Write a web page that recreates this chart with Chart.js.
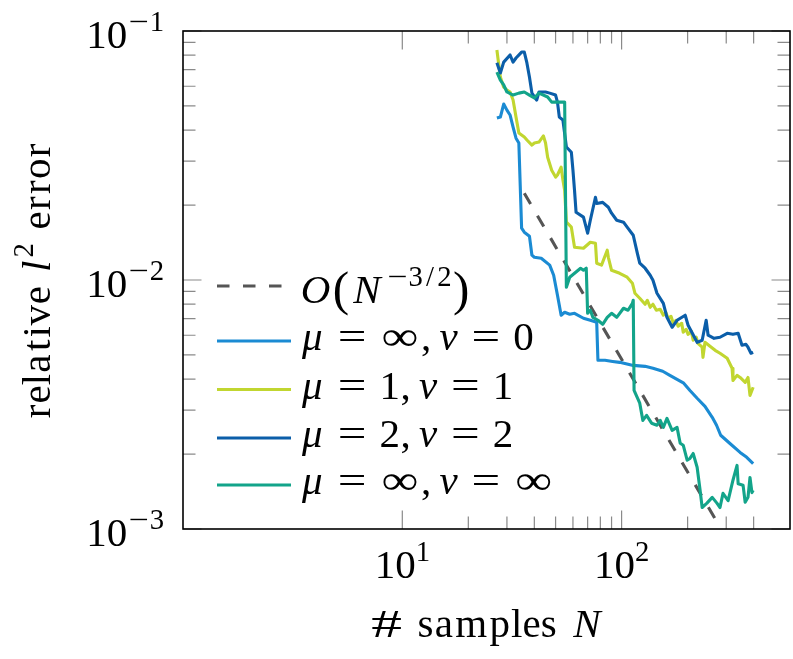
<!DOCTYPE html>
<html><head><meta charset="utf-8">
<script src="https://cdn.jsdelivr.net/npm/chart.js@4.4.0/dist/chart.umd.min.js"></script>
<style>html,body{margin:0;padding:0;background:#fff;}canvas{display:block;}</style>
</head><body>
<canvas id="c" width="793" height="659"></canvas>
<script>
// ---------- data ----------
const refN   = [36, 270];
const refErr = [0.0223, 0.00108];

const nInf0   = [27,28,29,30,31,32,33,34,35,36,38,39,40,43,47,49,51,53,55,58,61,67,72,77,78,84,91,98,113,128,139,154,166,192,205,221,240,259,271,283,311,347,372,398];
const errInf0 = [0.0447,0.0451,0.0509,0.0481,0.0460,0.0411,0.0371,0.0355,0.01614,0.01556,0.0150,0.01258,0.01234,0.01223,0.01147,0.01045,0.00868,0.00722,0.00742,0.00729,0.00735,0.00702,0.00689,0.00676,0.00476,0.00476,0.00471,0.00467,0.00454,0.00450,0.00442,0.00430,0.00414,0.00385,0.00360,0.00335,0.00311,0.00281,0.00261,0.00238,0.00221,0.00203,0.00194,0.00183];

const n11   = [27,28,29,30,31,32,33,34,36,37,39,40,42,44,45,46,48,50,51,53,54,55,56,59,61,67,72,76,77,81,86,87,90,98,106,112,115,121,128,131,135,139,144,150,155,159,163,168,172,177,181,188,191,197,201,208,212,219,223,233,235,240,253,267,281,303,319,322,336,347,366,377,385,398];
const err11 = [0.0839,0.0653,0.0595,0.0579,0.0569,0.0528,0.0451,0.0389,0.0375,0.0365,0.0348,0.0355,0.0358,0.0379,0.0355,0.0311,0.0276,0.0259,0.0264,0.0284,0.0252,0.0229,0.0171,0.0163,0.01354,0.01341,0.01418,0.01405,0.01168,0.01147,0.01317,0.01234,0.01094,0.01064,0.01026,0.00971,0.00885,0.00845,0.00799,0.00829,0.00777,0.00799,0.00756,0.00763,0.00722,0.00742,0.00702,0.00715,0.00670,0.00689,0.00652,0.00670,0.00617,0.00634,0.00605,0.00622,0.00573,0.00589,0.00557,0.00537,0.00489,0.00562,0.00542,0.00522,0.00508,0.00485,0.00442,0.00395,0.00414,0.00406,0.00388,0.00406,0.00344,0.00371];

const n22   = [27,28,29,31,32,33,35,36,37,38,39,41,42,45,47,50,51,52,54,56,59,60,61,62,67,70,72,76,77,82,87,90,95,102,106,113,118,121,128,135,139,145,155,161,170,179,195,201,221,233,243,248,264,281,303,322,340,354,369,377,389,398];
const err22 = [0.0745,0.0678,0.0750,0.0801,0.0750,0.0779,0.0823,0.0823,0.0744,0.0653,0.0563,0.0528,0.0569,0.0569,0.0563,0.0553,0.0518,0.0451,0.0439,0.0342,0.0326,0.0276,0.0229,0.0187,0.01788,0.01542,0.01738,0.0215,0.0203,0.0205,0.0196,0.01855,0.01738,0.01707,0.0163,0.01513,0.0128,0.01168,0.01115,0.01045,0.00998,0.00885,0.00806,0.00708,0.00646,0.00689,0.00722,0.00658,0.00562,0.00573,0.00689,0.00600,0.00583,0.00589,0.00611,0.00605,0.00611,0.00547,0.00552,0.00537,0.00508,0.00512];

const nInfInf   = [27,28,29,30,32,34,36,38,40,42,46,48,51,55,56,58,61,65,67,69,70,72,74,78,82,86,90,95,102,107,112,113,114,121,125,130,137,145,150,155,161,170,179,185,191,199,205,212,221,228,233,245,259,272,281,290,306,322,336,340,358,366,377,385,393,398];
const errInfInf = [0.0684,0.0635,0.0607,0.0569,0.0553,0.0563,0.0569,0.0553,0.0538,0.0563,0.0543,0.0518,0.0518,0.0518,0.00935,0.01026,0.01064,0.01115,0.01094,0.01115,0.00735,0.00756,0.00708,0.00689,0.00664,0.00708,0.00735,0.00708,0.00770,0.00756,0.00806,0.00829,0.00360,0.00320,0.00273,0.00286,0.00266,0.00261,0.00273,0.00256,0.00278,0.00249,0.00256,0.00221,0.00217,0.00189,0.00192,0.00201,0.00177,0.00143,0.00122,0.00127,0.00134,0.00127,0.00122,0.00139,0.00130,0.00157,0.00180,0.00152,0.00150,0.00128,0.00134,0.00161,0.00140,0.00143];

const seriesLabels = ['$O(N^{−3/2})$', '$μ = ∞, ν = 0$', '$μ = 1, ν = 1$', '$μ = 2, ν = 2$', '$μ = ∞, ν = ∞$'];
const seriesColors = ['#555555', '#1b8bd3', '#c1d630', '#0b5ea9', '#13a48a'];

const xTickValues = [10, 100];
const xTickLabels = ['$10^{1}$', '$10^{2}$'];
const xMinorTicks = [20,30,40,50,60,70,80,90,200,300,400];
const yTickValues = [0.001, 0.01, 0.1];
const yTickLabels = ['$10^{−3}$', '$10^{−2}$', '$10^{−1}$'];
const yMinorTicks = [0.002,0.003,0.004,0.005,0.006,0.007,0.008,0.009,0.02,0.03,0.04,0.05,0.06,0.07,0.08,0.09];
const xTitle = '# samples $N$';
const yTitle = 'relative $l^{2}$ error';

// ---------- rich text (TeX-like) ----------
const FONT = '"Liberation Serif","Times New Roman",serif';
const FS = 41;
const CMW = {'a':.5,'c':.444,'e':.444,'i':.278,'l':.278,'m':.833,'o':.5,'p':.556,'r':.392,'s':.394,'t':.389,'v':.528,
  '0':.5,'1':.5,'2':.5,'3':.5,'(':.389,')':.389,',':.278,'/':.5,'#':.833,'=':.778,'∞':1.0,'−':.778,' ':.333,
  'iμ':.603,'iν':.485,'iN':.803,'iO':.763,'il':.298};
const STRETCH = '=∞−#';
function mkRun(c, math, sz, dy, sup){
  const italic = math && /[A-Za-z\u0370-\u03ff]/.test(c);
  let s = sz, d = dy;
  if (math && !sup && (c==='(' || c===')')) { s = sz*1.2; d = dy + sz*0.05; }
  const key = italic ? 'i'+c : c;
  const adv = CMW[key] !== undefined ? CMW[key]*s : null;
  let padL = 0, padR = 0;
  if (math && !sup && c==='=') { padL = padR = 0.278*sz; }
  if (math && !sup && c===',') { padR = 0.167*sz; }
  return {c, italic, s, dy:d, adv, padL, padR, sup};
}
function layout(ctx, str, size){
  const runs = []; let math = false;
  for (let i=0;i<str.length;i++){
    const ch = str[i];
    if (ch==='$'){ math=!math; continue; }
    if (math && ch===' ') continue;
    if (math && ch==='^' && str[i+1]==='{'){
      const j = str.indexOf('}', i);
      for (const c of str.slice(i+2, j)) runs.push(mkRun(c, true, size*0.7, -size*0.413, true));
      i = j; continue;
    }
    runs.push(mkRun(ch, math, size, 0, false));
  }
  let total = 0;
  runs.forEach((r, k) => {
    ctx.font = (r.italic?'italic ':'') + r.s.toFixed(2) + 'px ' + FONT;
    r.w = ctx.measureText(r.c).width;
    if (r.adv === null) r.adv = r.w;
    if (r.italic && runs[k+1] && runs[k+1].sup) r.padR += 0.07*r.s;
    total += r.padL + r.adv + r.padR;
  });
  return {runs, total};
}
function drawRich(ctx, str, x, y, size, align){
  const L = layout(ctx, str, size);
  let cx = align==='center' ? x - L.total/2 : align==='right' ? x - L.total : x;
  ctx.textAlign = 'left'; ctx.textBaseline = 'alphabetic'; ctx.fillStyle = '#000';
  for (const r of L.runs){
    cx += r.padL;
    ctx.font = (r.italic?'italic ':'') + r.s.toFixed(2) + 'px ' + FONT;
    if (STRETCH.includes(r.c) && r.w < r.adv*0.85){
      const sx = r.adv*0.9 / r.w;
      ctx.save(); ctx.translate(cx + r.adv*0.05, y + r.dy); ctx.scale(sx, 1);
      ctx.fillText(r.c, 0, 0); ctx.restore();
    } else {
      ctx.fillText(r.c, cx + (r.adv - r.w)/2, y + r.dy);
    }
    cx += r.adv + r.padR;
  }
}

// ---------- decorations plugin ----------
const decor = {
  id: 'decor',
  beforeDatasetsDraw(chart){
    const ctx = chart.ctx, a = chart.chartArea, xs = chart.scales.x, ys = chart.scales.y;
    ctx.save();
    ctx.strokeStyle = '#8a8a8a'; ctx.lineWidth = 1.2;
    const MAJ = 18.5, MIN = 12.5;
    const vt = (v, len) => { const px = xs.getPixelForValue(v);
      ctx.beginPath(); ctx.moveTo(px, a.bottom); ctx.lineTo(px, a.bottom-len);
      ctx.moveTo(px, a.top); ctx.lineTo(px, a.top+len); ctx.stroke(); };
    const ht = (v, len) => { const py = ys.getPixelForValue(v);
      ctx.beginPath(); ctx.moveTo(a.left, py); ctx.lineTo(a.left+len, py);
      ctx.moveTo(a.right, py); ctx.lineTo(a.right-len, py); ctx.stroke(); };
    xMinorTicks.forEach(v => vt(v, MIN));
    xTickValues.forEach(v => vt(v, MAJ));
    yMinorTicks.forEach(v => ht(v, MIN));
    yTickValues.forEach(v => ht(v, MAJ));
    ctx.restore();
  },
  afterDatasetsDraw(chart){
    const ctx = chart.ctx, a = chart.chartArea, xs = chart.scales.x, ys = chart.scales.y;
    ctx.save();
    ctx.strokeStyle = '#000'; ctx.lineWidth = 1.6;
    ctx.strokeRect(a.left, a.top, a.right-a.left, a.bottom-a.top);
    xTickValues.forEach((v,i) => drawRich(ctx, xTickLabels[i], xs.getPixelForValue(v), a.bottom+49, FS, 'center'));
    yTickValues.forEach((v,i) => drawRich(ctx, yTickLabels[i], a.left-19, ys.getPixelForValue(v)+17, FS, 'right'));
    drawRich(ctx, xTitle, (a.left+a.right)/2, a.bottom+108, FS, 'center');
    ctx.save(); ctx.translate(50, (a.top+a.bottom)/2+1); ctx.rotate(-Math.PI/2);
    drawRich(ctx, yTitle, 0, 0, FS, 'center'); ctx.restore();
    const rowLine = [286, 341, 389.5, 438, 485];
    const rowBase = [303, 350, 398.5, 447, 494];
    chart.data.datasets.forEach((ds, i) => {
      ctx.save();
      ctx.strokeStyle = ds.borderColor; ctx.lineWidth = ds.borderWidth;
      ctx.setLineDash(ds.borderDash || []);
      ctx.beginPath(); ctx.moveTo(217, rowLine[i]); ctx.lineTo(291, rowLine[i]); ctx.stroke();
      ctx.restore();
      drawRich(ctx, ds.label, 300, rowBase[i], FS, 'left');
    });
    ctx.restore();
  }
};

const series = [[refN, refErr], [nInf0, errInf0], [n11, err11], [n22, err22], [nInfInf, errInfInf]];
const datasets = series.map((s, i) => ({
  label: seriesLabels[i],
  data: s[0].map((n, k) => ({x: n, y: s[1][k]})),
  borderColor: seriesColors[i],
  borderWidth: 3.1,
  borderDash: i === 0 ? [12.5, 13.5] : [],
  borderJoinStyle: 'round',
  pointRadius: 0,
  fill: false,
  tension: 0,
  order: series.length - i
}));

new Chart(document.getElementById('c'), {
  type: 'line',
  data: { datasets },
  options: {
    responsive: false,
    animation: false,
    devicePixelRatio: 1,
    layout: { padding: { left: 183, right: 3, top: 31, bottom: 130 } },
    plugins: { legend: { display: false }, tooltip: { enabled: false } },
    scales: {
      x: { type: 'logarithmic', min: 1, max: 586, display: false },
      y: { type: 'logarithmic', min: 0.001, max: 0.1, display: false }
    }
  },
  plugins: [decor]
});
</script>
</body></html>
